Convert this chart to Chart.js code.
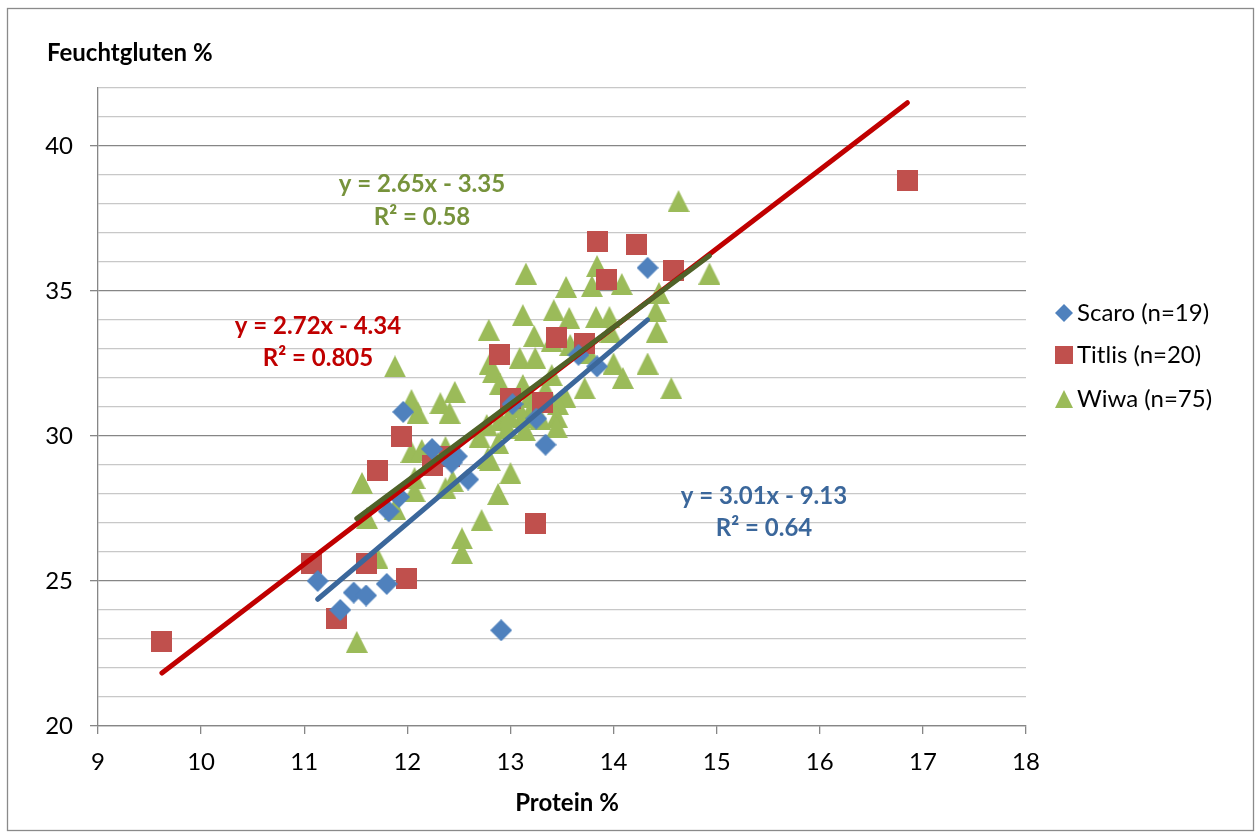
<!DOCTYPE html>
<html>
<head>
<meta charset="utf-8">
<script src="https://cdn.jsdelivr.net/npm/chart.js@4/dist/chart.umd.min.js"></script>
<style>
html,body{margin:0;padding:0;background:#fff;}
#wrap{width:1260px;height:832px;position:relative;}
</style>
</head>
<body>
<div id="wrap"><canvas id="c" width="1260" height="832"></canvas></div>
<script>
// ---- data ----
const seriesNames = ['Scaro (n=19)', 'Titlis (n=20)', 'Wiwa (n=75)'];

const scaroX = [11.13, 11.35, 11.48, 11.60, 11.80, 11.82, 11.92, 11.96, 12.24, 12.48, 12.43, 12.59, 12.91, 13.02, 13.34, 13.66, 13.84, 14.33, 13.25];
const scaroY = [25.0, 24.0, 24.6, 24.5, 24.9, 27.4, 27.9, 30.83, 29.55, 29.3, 29.08, 28.5, 23.3, 31.1, 29.7, 32.8, 32.4, 35.8, 30.6];

const titlisX = [9.62, 11.07, 11.31, 11.60, 11.71, 11.94, 11.99, 12.24, 12.41, 12.89, 13.00, 13.31, 13.24, 13.84, 14.22, 13.93, 14.58, 13.45, 13.72, 16.85];
const titlisY = [22.93, 25.6, 23.7, 25.6, 28.8, 30.0, 25.1, 28.97, 29.3, 32.8, 31.3, 31.14, 27.0, 36.7, 36.6, 35.4, 35.7, 33.4, 33.2, 38.8];

const wiwaX = [14.63, 13.84, 13.79, 14.08, 14.93, 14.44, 14.41, 13.83, 13.96, 14.42,
               13.97, 13.76, 14.00, 14.33, 14.09, 13.72, 14.56, 13.15, 13.54, 13.42,
               13.12, 13.57, 12.79, 13.23, 13.40, 13.58, 13.09, 13.24, 12.80, 12.83,
               12.90, 13.40, 13.12, 13.34, 13.19, 13.53, 13.46, 13.45, 13.45, 13.07,
               13.21, 12.77, 12.90, 12.97, 13.14, 12.70, 12.88, 12.78, 13.00, 12.88,
               12.72, 12.53, 12.53, 11.88, 12.04, 12.10, 12.46, 12.32, 12.41, 12.04,
               12.14, 12.37, 11.56, 12.07, 12.07, 12.37, 12.44, 11.88, 11.61, 11.71,
               11.51, 13.12, 12.99, 12.80, 13.29];
const wiwaY = [38.1, 35.86, 35.17, 35.24, 35.6, 34.93, 34.3, 34.1, 34.1, 33.6,
               33.6, 32.86, 32.5, 32.5, 32.0, 31.65, 31.65, 35.6, 35.14, 34.34,
               34.17, 34.07, 33.66, 33.45, 33.28, 33.14, 32.69, 32.69, 32.5, 32.2,
               31.8, 32.1, 31.76, 31.6, 31.36, 31.36, 31.1, 30.66, 30.3, 31.0,
               30.97, 30.38, 30.55, 30.28, 30.2, 29.97, 29.76, 29.24, 28.72, 28.0,
               27.1, 26.47, 25.96, 32.4, 31.24, 30.8, 31.52, 31.13, 30.8, 29.45,
               29.52, 29.62, 28.38, 28.55, 28.1, 28.2, 28.45, 27.5, 27.17, 25.8,
               22.9, 30.66, 30.7, 29.17, 30.6];

// trendline equations as labelled in the chart (Scaro, Titlis, Wiwa)
const trendSlope = [3.01, 2.72, 2.65];
const trendIntercept = [-9.13, -4.34, -3.35];
const trendLabels = ['y = 3.01x - 9.13', 'y = 2.72x - 4.34', 'y = 2.65x - 3.35'];
const r2Labels = ['R² = 0.64', 'R² = 0.805', 'R² = 0.58'];

const xTitle = 'Protein %';
const yTitle = 'Feuchtgluten %';

// ---- styles ----
const markerColors = ['#4F81BD', '#C0504D', '#9BBB59'];
const lineColors = ['#3B679B', '#C00000', '#4F6228'];
const textColors = ['#3B679B', '#C00000', '#77933C'];
const FONT = 'Lato';

function makeMarker(kind, s, color) {
  const c = document.createElement('canvas');
  c.width = s; c.height = s;
  const g = c.getContext('2d');
  g.fillStyle = color;
  g.beginPath();
  if (kind === 'diamond') {
    g.moveTo(s/2, 0); g.lineTo(s, s/2); g.lineTo(s/2, s); g.lineTo(0, s/2);
  } else if (kind === 'square') {
    g.rect(0, 0, s, s);
  } else {
    g.moveTo(s/2, 0); g.lineTo(s, s); g.lineTo(0, s);
  }
  g.closePath();
  g.fill();
  return c;
}
const kinds = ['diamond', 'square', 'triangle'];
const markerSizes = [22, 21, 22];
const markers = kinds.map((k, i) => makeMarker(k, markerSizes[i], markerColors[i]));
const legendMarkers = kinds.map((k, i) => makeMarker(k, 18, markerColors[i]));

function pts(xs, ys) { return xs.map((x, i) => ({x: x, y: ys[i]})); }
function trend(xs, k) {
  const lo = Math.min(...xs), hi = Math.max(...xs);
  return [{x: lo, y: trendSlope[k]*lo + trendIntercept[k]}, {x: hi, y: trendSlope[k]*hi + trendIntercept[k]}];
}
const allX = [scaroX, titlisX, wiwaX];
const allY = [scaroY, titlisY, wiwaY];

const datasets = [];
for (let k = 0; k < 3; k++) {
  datasets.push({
    type: 'scatter', label: seriesNames[k], data: pts(allX[k], allY[k]),
    pointStyle: markers[k], pointRadius: 11, pointHoverRadius: 11, order: 10
  });
}
const lineOrder = [2, 3, 1];
for (let k = 0; k < 3; k++) {
  datasets.push({
    type: 'line', label: 'trend' + k, data: trend(allX[k], k),
    borderColor: lineColors[k], borderWidth: 5, pointRadius: 0, borderCapStyle: 'round',
    fill: false, showLine: true, order: lineOrder[k]
  });
}

const deco = {
  id: 'deco',
  beforeDraw(chart) {
    const ctx = chart.ctx;
    ctx.save();
    ctx.fillStyle = '#fff';
    ctx.fillRect(0, 0, chart.width, chart.height);
    ctx.strokeStyle = '#8a8a8a';
    ctx.lineWidth = 1.3;
    ctx.strokeRect(7.5, 8.5, 1246, 822);
    ctx.restore();
  },
  afterDraw(chart) {
    const ctx = chart.ctx;
    ctx.save();
    ctx.textBaseline = 'middle';
    // axis titles
    ctx.fillStyle = '#000';
    ctx.font = 'bold 24px ' + FONT;
    ctx.textAlign = 'left';
    ctx.fillText(yTitle, 47, 53);
    ctx.textAlign = 'center';
    ctx.fillText(xTitle, 567, 803);
    // equations
    const eqPos = [[764, 496, 528], [318, 326, 358], [422, 184, 217]];
    for (let k = 0; k < 3; k++) {
      ctx.fillStyle = textColors[k];
      ctx.fillText(trendLabels[k], eqPos[k][0], eqPos[k][1]);
      ctx.fillText(r2Labels[k], eqPos[k][0], eqPos[k][2]);
    }
    // legend
    const ly = [313, 355, 399];
    ctx.font = '24px ' + FONT;
    ctx.textAlign = 'left';
    ctx.fillStyle = '#000';
    for (let k = 0; k < 3; k++) {
      const m = legendMarkers[k];
      ctx.drawImage(m, 1064 - m.width/2, ly[k] - m.height/2);
      ctx.fillText(seriesNames[k], 1077, ly[k]);
    }
    ctx.restore();
  }
};

new Chart(document.getElementById('c'), {
  type: 'scatter',
  data: { datasets: datasets },
  options: {
    responsive: false,
    animation: false,
    devicePixelRatio: 1,
    layout: { padding: { top: 88, right: 234, left: 0, bottom: 0 } },
    plugins: { legend: { display: false }, tooltip: { enabled: false }, title: { display: false } },
    scales: {
      x: {
        type: 'linear', min: 9, max: 18,
        ticks: { stepSize: 1, font: { family: FONT, size: 24 }, color: '#000', padding: 14 },
        grid: { drawOnChartArea: false, drawTicks: true, tickLength: 8, color: '#868686', lineWidth: 1.3 },
        border: { display: true, color: '#868686', width: 1.3 },
        afterFit(s) { s.height = 106; }
      },
      y: {
        type: 'linear', min: 20, max: 42,
        ticks: {
          stepSize: 1, autoSkip: false, font: { family: FONT, size: 24 }, color: '#000', padding: 17,
          callback: v => (v % 5 === 0 ? String(v) : '')
        },
        grid: {
          drawTicks: true, tickLength: 8, lineWidth: 1.3,
          color: c => (c.tick && c.tick.value % 5 === 0 ? '#868686' : '#c8c8c8'),
          tickColor: c => (c.tick && c.tick.value % 5 === 0 ? '#868686' : 'rgba(0,0,0,0)')
        },
        border: { display: true, color: '#868686', width: 1.3 },
        afterFit(s) { s.width = 98; }
      }
    }
  },
  plugins: [deco]
});
</script>
</body>
</html>
